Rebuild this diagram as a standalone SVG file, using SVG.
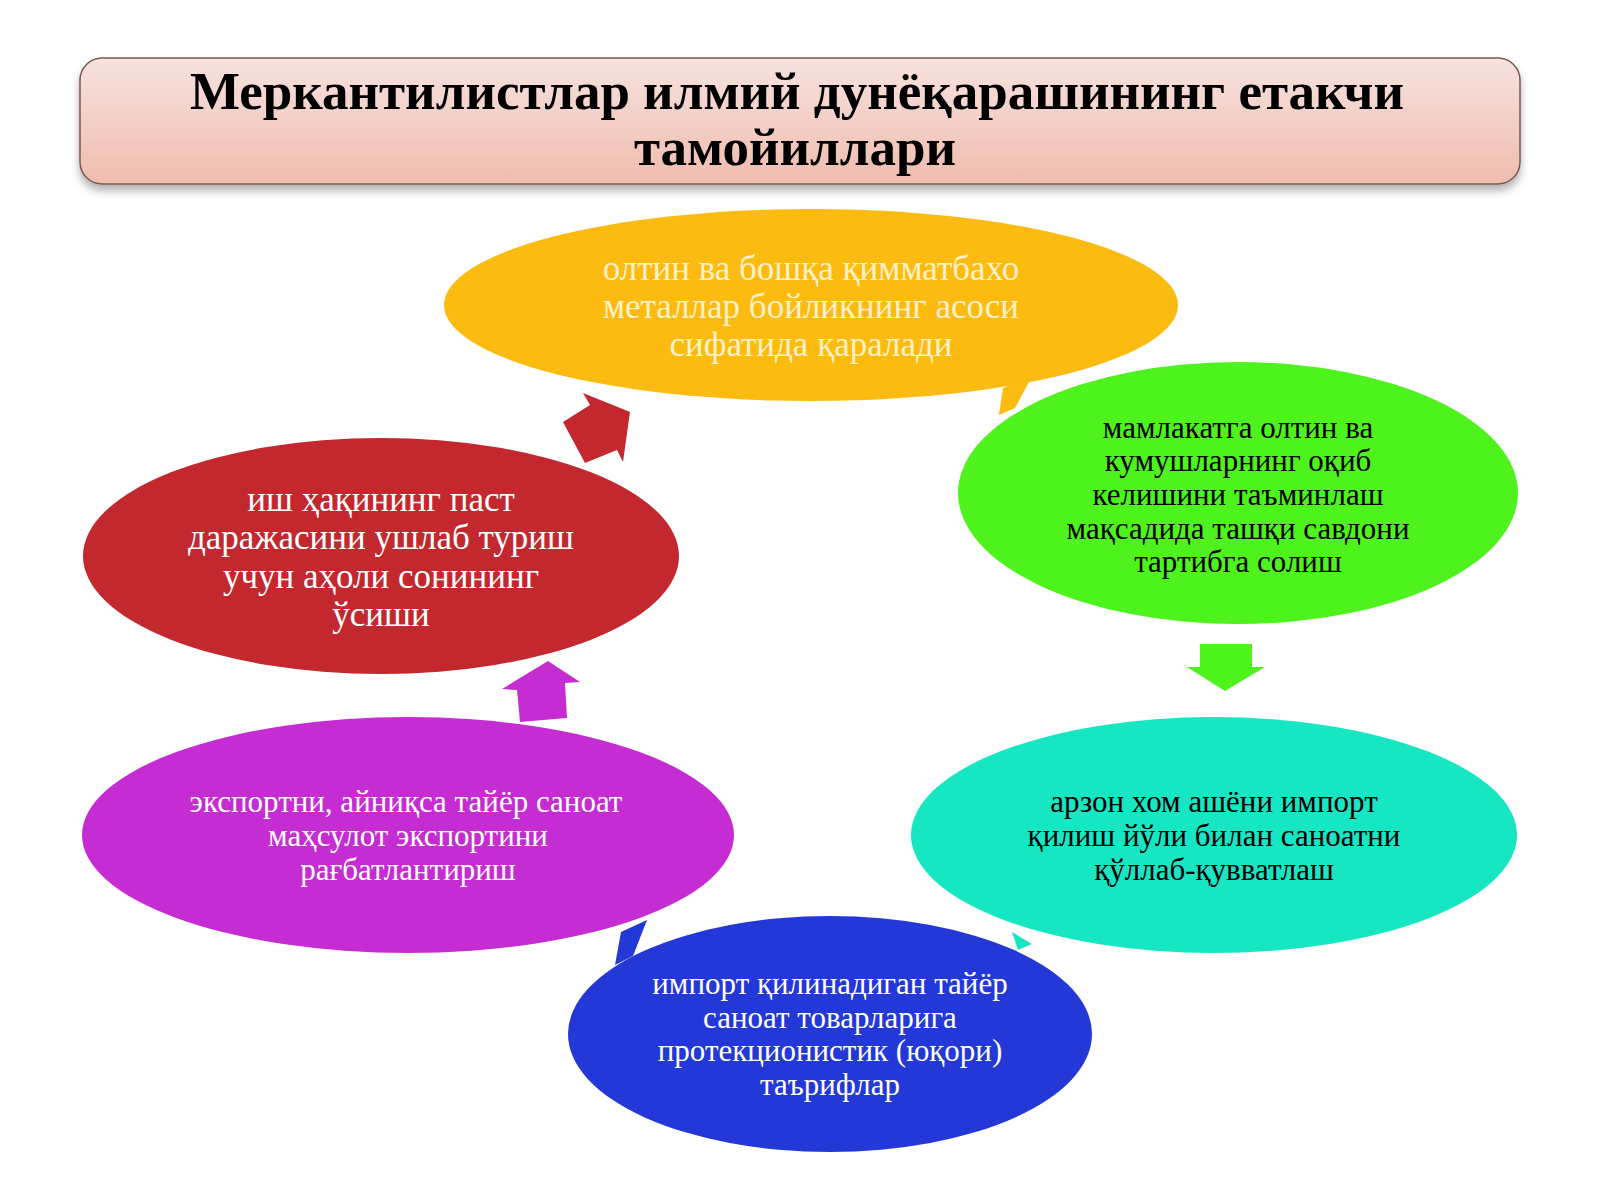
<svg xmlns="http://www.w3.org/2000/svg" width="1600" height="1200" viewBox="0 0 1600 1200">
<defs>
<linearGradient id="tg" x1="0" y1="0" x2="0" y2="1">
<stop offset="0" stop-color="#f7e2df"/>
<stop offset="1" stop-color="#efbcae"/>
</linearGradient>
<filter id="sh" x="-5%" y="-20%" width="110%" height="150%">
<feDropShadow dx="0" dy="6" stdDeviation="4" flood-color="#000" flood-opacity="0.3"/>
</filter>
<style>
text{font-family:"Liberation Serif","Times New Roman",serif;text-anchor:middle}
.title{font-size:53px;font-weight:bold;fill:#000}
.big{font-size:35px}
.sm{font-size:31px}
.w{fill:#ffffff}
.y{fill:#fff1c8}
.k{fill:#000000}
</style>
</defs>
<rect width="1600" height="1200" fill="#ffffff"/>
<g id="title">
<rect x="80" y="58" width="1440" height="126" rx="22" fill="url(#tg)" stroke="#7a5a50" stroke-width="1.5" filter="url(#sh)"/>
<text class="title" x="797" y="109">Меркантилистлар илмий дунёқарашининг етакчи</text>
<text class="title" x="795" y="165">тамойиллари</text>
</g>
<g id="connectors">
<polygon points="1003,388 999,415 1015,408 1030,380 1010,385" fill="#fcbb10"/>
<polygon points="1200,644 1252,644 1252,667 1265,667 1225,691 1187,667 1200,667" fill="#4ef21c"/>
<polygon points="1012,932 1018,950 1032,944" fill="#17e6c3"/>
<polygon points="615,965 621,932 647,920 633,956" fill="#2338d6"/>
<polygon points="502,689 548,661 580,682 565,683 567,718 520,722 517,690" fill="#c52dd3"/>
<polygon points="583,393 630,412 623,462 617,450 585,463 563,422 590,405" fill="#c3282f"/>
</g>
<g id="node-gold">
<ellipse cx="811" cy="305" rx="367" ry="96" fill="#fcbb10"/>
<text class="big y" x="811" y="280">олтин ва бошқа қимматбахо</text>
<text class="big y" x="811" y="318">металлар бойликнинг асоси</text>
<text class="big y" x="811" y="356">сифатида қаралади</text>
</g>
<g id="node-trade">
<ellipse cx="1238" cy="493" rx="280" ry="131" fill="#4ef21c"/>
<text class="sm k" x="1238" y="438">мамлакатга олтин ва</text>
<text class="sm k" x="1238" y="471">кумушларнинг оқиб</text>
<text class="sm k" x="1238" y="505">келишини таъминлаш</text>
<text class="sm k" x="1238" y="539">мақсадида ташқи савдони</text>
<text class="sm k" x="1238" y="572">тартибга солиш</text>
</g>
<g id="node-raw">
<ellipse cx="1214" cy="835" rx="303" ry="118" fill="#17e6c3"/>
<text class="sm k" x="1214" y="812">арзон хом ашёни импорт</text>
<text class="sm k" x="1214" y="846">қилиш йўли билан саноатни</text>
<text class="sm k" x="1214" y="880">қўллаб-қувватлаш</text>
</g>
<g id="node-tariff">
<ellipse cx="830" cy="1034" rx="262" ry="118" fill="#2338d6"/>
<text class="sm w" x="830" y="994">импорт қилинадиган тайёр</text>
<text class="sm w" x="830" y="1028">саноат товарларига</text>
<text class="sm w" x="830" y="1061">протекционистик (юқори)</text>
<text class="sm w" x="830" y="1095">таърифлар</text>
</g>
<g id="node-export">
<ellipse cx="408" cy="835" rx="326" ry="118" fill="#c52dd3"/>
<text class="sm w" x="406" y="812">экспортни, айниқса тайёр саноат</text>
<text class="sm w" x="408" y="846">маҳсулот экспортини</text>
<text class="sm w" x="408" y="880">рағбатлантириш</text>
</g>
<g id="node-wage">
<ellipse cx="381" cy="556" rx="298" ry="118" fill="#c3282f"/>
<text class="big w" x="381" y="511">иш ҳақининг паст</text>
<text class="big w" x="381" y="549">даражасини ушлаб туриш</text>
<text class="big w" x="381" y="588">учун аҳоли сонининг</text>
<text class="big w" x="381" y="626">ўсиши</text>
</g>
</svg>
